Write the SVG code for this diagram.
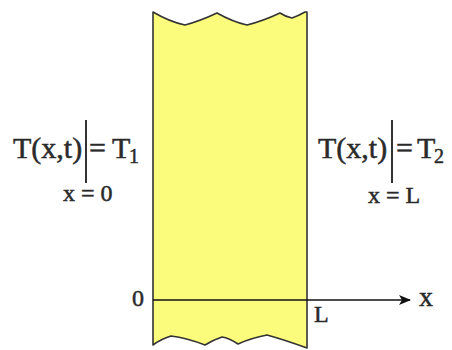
<svg xmlns="http://www.w3.org/2000/svg" width="452" height="350" viewBox="0 0 452 350">
<style>
.t{font-family:"Liberation Serif","Times New Roman",serif;fill:#2a2a2a;stroke:#2a2a2a;stroke-width:0.5}
.big{font-size:30px}
.sub{font-size:20px}
.sm{font-size:24px}
.bar{stroke:#333;stroke-width:2}
</style>
<defs>
<marker id="ah" markerWidth="12" markerHeight="10" refX="11" refY="5" orient="auto" markerUnits="userSpaceOnUse">
<path d="M0,0 L12,5 L0,10 L3,5 Z" fill="#111"/>
</marker>
</defs>
<rect width="452" height="350" fill="#fff"/>
<g id="slab">
<path d="M153,12 Q170,22 185,25 Q200,21 217,13 Q233,22 247,25 Q263,21 280,13 Q286,17 292,18 Q298,16 305,12 L307,12 L307,348 Q285,340 267,335 Q251,338 238,344 Q229,338 222,337 Q213,340 205,345 Q187,338 171,336 Q161,339 153,345 Z" fill="#fcfc7c" stroke="#333" stroke-width="1.6" stroke-linejoin="round"/>
</g>
<g id="connectors">
<line x1="153" y1="300" x2="410" y2="300" stroke="#111" stroke-width="1.6" marker-end="url(#ah)"/>
</g>
<g id="axis-labels">
<text class="t sm" x="132" y="306">0</text>
<text class="t sm" x="314" y="322">L</text>
<text class="t" style="font-size:28px" x="419" y="306">x</text>
</g>
<g id="left-bc">
<text class="t big" x="13" y="158">T(x,t)</text>
<line class="bar" x1="86" y1="120" x2="86" y2="183"/>
<text class="t big" x="89" y="158">=</text>
<text class="t big" x="112" y="158">T</text>
<text class="t sub" x="129" y="163">1</text>
<text class="t sm" x="63" y="201">x = 0</text>
</g>
<g id="right-bc">
<text class="t big" x="318" y="158">T(x,t)</text>
<line class="bar" x1="392" y1="120" x2="392" y2="183"/>
<text class="t big" x="396" y="158">=</text>
<text class="t big" x="417" y="158">T</text>
<text class="t sub" x="434" y="163">2</text>
<text class="t sm" x="368" y="203">x = L</text>
</g>
</svg>
